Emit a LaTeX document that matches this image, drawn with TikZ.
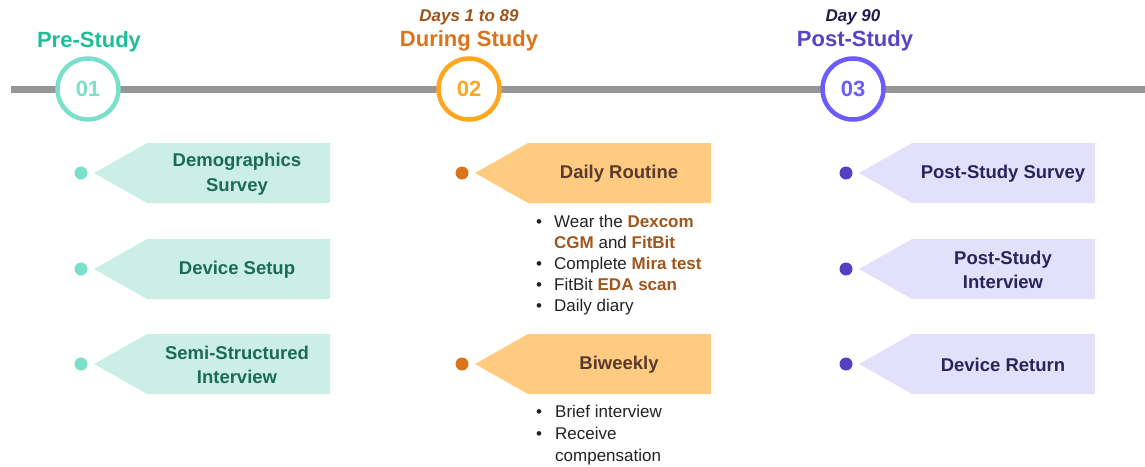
\documentclass[tikz,border=0pt]{standalone}
\usepackage{fontspec}
\setmainfont{Liberation Sans}
\definecolor{lgray}{HTML}{969696}
\definecolor{tealc}{HTML}{7AE0CC}
\definecolor{tealt}{HTML}{1DBE98}
\definecolor{tealf}{HTML}{CBEFE7}
\definecolor{tealx}{HTML}{1B6B55}
\definecolor{orc}{HTML}{FFA621}
\definecolor{ort}{HTML}{D9731C}
\definecolor{ordays}{HTML}{9C541A}
\definecolor{orf}{HTML}{FFCB80}
\definecolor{orx}{HTML}{5A3A2E}
\definecolor{orh}{HTML}{A0561C}
\definecolor{puc}{HTML}{6C5CFF}
\definecolor{put}{HTML}{5643C8}
\definecolor{puday}{HTML}{231A50}
\definecolor{puf}{HTML}{E3E0FC}
\definecolor{pux}{HTML}{2A2458}
\definecolor{pud}{HTML}{5540C4}
\definecolor{txt}{HTML}{222222}
\newcommand{\pennant}[3]{% fill, tip x, center y
  \fill[#1] (#2,#3) -- ++(53,-30) -- ++(183,0) -- ++(0,60) -- ++(-183,0) -- cycle;}
\begin{document}
\begin{tikzpicture}[x=1pt,y=-1pt,
  stepcircle/.style={circle,draw=#1,line width=4.5pt,fill=white,minimum size=61pt,inner sep=0pt,text=#1,font=\fontsize{22}{24}\selectfont\bfseries},
  phase/.style={text=#1,font=\fontsize{22}{24}\selectfont\bfseries,inner sep=0pt},
  days/.style={text=#1,font=\fontsize{17}{20}\selectfont\bfseries\itshape,inner sep=0pt},
  boxtext/.style={text=#1,font=\fontsize{18.5}{24.5}\selectfont\bfseries,align=center,inner sep=0pt},
  dotn/.style={circle,fill=#1,minimum size=13pt,inner sep=0pt},
  bul/.style={anchor=base west,text=txt,font=\fontsize{17}{19}\selectfont,inner sep=0pt}]
\useasboundingbox (0,0) rectangle (1145,466);
% timeline
\coordinate (L0) at (11,89);
\coordinate (L1) at (1145,89);
\draw[lgray,line width=7pt] (L0) -- (L1);
% circles
\node[stepcircle=tealc] (c1) at (88,89) {01};
\node[stepcircle=orc] (c2) at (469,89) {02};
\node[stepcircle=puc] (c3) at (853,89) {03};
% titles
\node[phase=tealt] (t1) at (89,42) {Pre-Study};
\node[phase=ort] (t2) at (469,41) {During Study};
\node[days=ordays] (d2) at (469,17) {Days 1 to 89};
\node[phase=put] (t3) at (855,41) {Post-Study};
\node[days=puday] (d3) at (853,17) {Day 90};
% column 1
\pennant{tealf}{94}{173}
\pennant{tealf}{94}{269}
\pennant{tealf}{94}{364}
\node[dotn=tealc] (a1) at (81,173) {};
\node[dotn=tealc] (a2) at (81,269) {};
\node[dotn=tealc] (a3) at (81,364) {};
\node[boxtext=tealx] (b1) at (237,174) {Demographics\\Survey};
\node[boxtext=tealx] (b2) at (237,270) {Device Setup};
\node[boxtext=tealx] (b3) at (237,365) {Semi-Structured\\Interview};
% column 2
\pennant{orf}{475}{173}
\pennant{orf}{475}{364}
\node[dotn=ort] (e1) at (462,173) {};
\node[dotn=ort] (e2) at (462,364) {};
\node[boxtext=orx] (f1) at (619,174) {Daily Routine};
\node[boxtext=orx] (f2) at (619,365) {Biweekly};
\node[bul] (g1b) at (536,227) {•};
\node[bul] (g1) at (554,227) {Wear the \textcolor{orh}{\bfseries Dexcom}};
\node[bul] (g2) at (554,248) {\textcolor{orh}{\bfseries CGM} and \textcolor{orh}{\bfseries FitBit}};
\node[bul] (g3b) at (536,269) {•};
\node[bul] (g3) at (554,269) {Complete \textcolor{orh}{\bfseries Mira test}};
\node[bul] (g4b) at (536,290) {•};
\node[bul] (g4) at (554,290) {FitBit \textcolor{orh}{\bfseries EDA scan}};
\node[bul] (g5b) at (536,311) {•};
\node[bul] (g5) at (554,311) {Daily diary};
\node[bul] (h1b) at (536,417) {•};
\node[bul] (h1) at (555,417) {Brief interview};
\node[bul] (h2b) at (536,439) {•};
\node[bul] (h2) at (555,439) {Receive};
\node[bul] (h3) at (555,461) {compensation};
% column 3
\pennant{puf}{859}{173}
\pennant{puf}{859}{269}
\pennant{puf}{859}{364}
\node[dotn=pud] (k1) at (846,173) {};
\node[dotn=pud] (k2) at (846,269) {};
\node[dotn=pud] (k3) at (846,364) {};
\node[boxtext=pux] (m1) at (1003,174) {Post-Study Survey};
\node[boxtext=pux] (m2) at (1003,270) {Post-Study\\Interview};
\node[boxtext=pux] (m3) at (1003,365) {Device Return};
\end{tikzpicture}
\end{document}
